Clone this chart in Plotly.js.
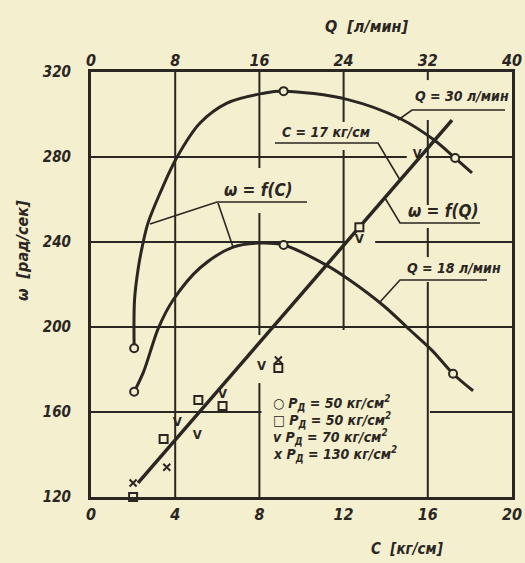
<!DOCTYPE html>
<html>
<head>
<meta charset="utf-8">
<script src="https://cdn.plot.ly/plotly-3.0.1.min.js"></script>
<style>
  html, body { margin: 0; padding: 0; background: #f4efcf; }
  #chart { width: 525px; height: 563px; }
</style>
</head>
<body>
<div id="chart"></div>
<script>
// ---------- data ----------
// omega = f(C) at Q = 30 l/min (bottom axis C)
const cQ30 = [2.05, 2.07, 2.25, 2.47, 2.71, 3.28, 4.09, 5.18, 6.46, 8.2, 9.15, 12.2, 14.7, 16.3, 17.3, 18.1];
const wQ30 = [190, 213, 228, 239.5, 249, 263, 280, 296, 305.4, 310, 311, 307, 298, 288, 279.5, 272.5];

// omega = f(C) at Q = 18 l/min
const cQ18 = [2.05, 2.5, 2.95, 3.2, 3.9, 5.2, 6.75, 8.0, 9.15, 11.2, 12.3, 13.9, 15.15, 16.2, 17.2, 18.15];
const wQ18 = [169.5, 179, 192.5, 199.5, 212.7, 228, 237.6, 239.5, 238.6, 229, 222, 210, 198.6, 189, 178, 170];

// circled points on the two curves
const cCircles = [2.05, 9.15, 17.3, 2.05, 9.15, 17.2];
const wCircles = [190, 311, 279.5, 169.5, 238.6, 178];

// omega = f(Q) at C = 17 kg/cm (top axis Q)
const qLine = [4.47, 34.3];
const wLine = [126.6, 297.4];

// test points around the straight line, by P_D
const qSquare = [4.0, 6.9, 10.2, 12.5, 17.8, 25.5];
const wSquare = [120, 147.3, 165.6, 162.8, 180.7, 247];
const qVee = [8.2, 10.1, 12.5, 16.2, 25.5, 31.0];
const wVee = [154.8, 149, 168, 181.2, 241, 281];
const qCross = [4.0, 7.2, 17.8];
const wCross = [126.6, 134, 184.5];

const cTicks = [0, 4, 8, 12, 16, 20];
const qTicks = [0, 8, 16, 24, 32, 40];
const wTicks = [120, 160, 200, 240, 280, 320];

// ---------- style ----------
const INK = "#2a2622";
const BG = "#f4efcf";
const FONT = "Liberation Sans Narrow, DejaVu Sans Condensed, sans-serif";
const hand = (size) => ({ family: FONT, size: size, color: INK, weight: 700, style: "italic" });

// plot area in pixels: left 91, right 512, top 72, bottom 497
const fx = (px) => (px - 91) / 421;
const fy = (py) => (497 - py) / 425;

function hseg(w, c0, c1) {
  return { type: "line", xref: "x", yref: "y", x0: c0, x1: c1, y0: w, y1: w,
    line: { color: INK, width: 2 }, layer: "below" };
}
function vseg(c, w0, w1) {
  return { type: "line", xref: "x", yref: "y", x0: c, x1: c, y0: w0, y1: w1,
    line: { color: INK, width: 2 }, layer: "below" };
}
function leader(pts) {
  const d = pts.map((p, i) => (i ? "L" : "M") + fx(p[0]) + "," + fy(p[1])).join(" ");
  return { type: "path", xref: "paper", yref: "paper", path: d,
    line: { color: INK, width: 1.6 } };
}
function label(text, px, py, size, anchor) {
  return { text: text, x: fx(px), y: fy(py), xref: "paper", yref: "paper",
    xanchor: anchor || "center", yanchor: "middle", showarrow: false, font: hand(size) };
}

const traces = [
  { x: cQ30, y: wQ30, type: "scatter", mode: "lines", line: { color: INK, width: 3, shape: "spline" } },
  { x: cQ18, y: wQ18, type: "scatter", mode: "lines", line: { color: INK, width: 3, shape: "spline" } },
  { x: cCircles, y: wCircles, type: "scatter", mode: "markers",
    marker: { symbol: "circle", size: 8, color: BG, line: { color: INK, width: 2 } } },
  { x: qLine, y: wLine, xaxis: "x2", type: "scatter", mode: "lines", line: { color: INK, width: 3.5 } },
  { x: qSquare, y: wSquare, xaxis: "x2", type: "scatter", mode: "markers", cliponaxis: false,
    marker: { symbol: "square", size: 8, color: BG, line: { color: INK, width: 2 } } },
  { x: qCross, y: wCross, xaxis: "x2", type: "scatter", mode: "markers", cliponaxis: false,
    marker: { symbol: "x-thin-open", size: 7, color: INK, line: { color: INK, width: 2 } } },
  { x: qVee, y: wVee, xaxis: "x2", type: "scatter", mode: "text", text: qVee.map(() => "V"),
    textposition: "middle center", cliponaxis: false,
    textfont: { family: FONT, size: 13, color: INK, weight: 700 } },
];

const layout = {
  width: 525, height: 563,
  margin: { l: 91, r: 13, t: 72, b: 66 },
  paper_bgcolor: BG, plot_bgcolor: BG,
  showlegend: false,
  xaxis: {
    range: [0, 20], tickvals: cTicks, ticks: "", showgrid: false, zeroline: false,
    showline: true, mirror: true, linecolor: INK, linewidth: 3,
    tickfont: hand(16), ticklabelstandoff: 1,
  },
  xaxis2: {
    range: [0, 40], tickvals: qTicks, overlaying: "x", side: "top", anchor: "y",
    ticks: "", showgrid: false, zeroline: false, showline: false,
    tickfont: hand(16), ticklabelstandoff: 2,
  },
  yaxis: {
    range: [120, 320], tickvals: wTicks, ticks: "", showgrid: false, zeroline: false,
    showline: true, mirror: true, linecolor: INK, linewidth: 3,
    tickfont: hand(15), ticklabelstandoff: 14,
  },
  shapes: [
    hseg(280, 0, 15.0), hseg(280, 15.9, 20),
    hseg(240, 0, 12.2), hseg(240, 13.5, 20),
    hseg(200, 0, 20),
    hseg(160, 0, 8.1), hseg(160, 16.1, 20),
    vseg(4, 120, 320),
    vseg(8, 274.8, 320), vseg(8, 196.2, 253.6), vseg(8, 120, 173.6),
    vseg(12, 296.5, 320), vseg(12, 198.6, 283.3),
    vseg(16, 316.2, 320), vseg(16, 257.4, 297.4), vseg(16, 232.9, 246.6), vseg(16, 120, 221.2),
    leader([[398, 120], [412, 110], [505, 110]]),
    leader([[275, 143], [378, 143], [400, 180]]),
    leader([[385, 198], [400, 223], [480, 223]]),
    leader([[380, 302], [400, 280], [487, 280]]),
    leader([[150, 224], [217, 202], [307, 202]]),
    leader([[218, 203], [233, 247]]),
  ],
  annotations: [
    label("Q  [л/мин]", 366, 27, 16),
    label("C  [кг/см]", 407, 549, 15),
    Object.assign(label("ω  [рад/сек]", 22, 251, 16), { textangle: -90 }),
    label("Q = 30 л/мин", 462, 96, 14),
    label("C = 17 кг/см", 326, 132, 14),
    label("ω = f(Q)", 443, 211, 17),
    label("Q = 18 л/мин", 454, 268, 14),
    label("ω = f(C)", 258, 190, 17),
    label("○ P<sub>Д</sub> = 50 кг/см<sup>2</sup>", 271, 403, 14, "left"),
    label("□ P<sub>Д</sub> = 50 кг/см<sup>2</sup>", 271, 420, 14, "left"),
    label("v P<sub>Д</sub> = 70 кг/см<sup>2</sup>", 271, 437, 14, "left"),
    label("x P<sub>Д</sub> = 130 кг/см<sup>2</sup>", 271, 454, 14, "left"),
  ],
};

Plotly.newPlot("chart", traces, layout, { displayModeBar: false, staticPlot: true });
</script>
</body>
</html>
